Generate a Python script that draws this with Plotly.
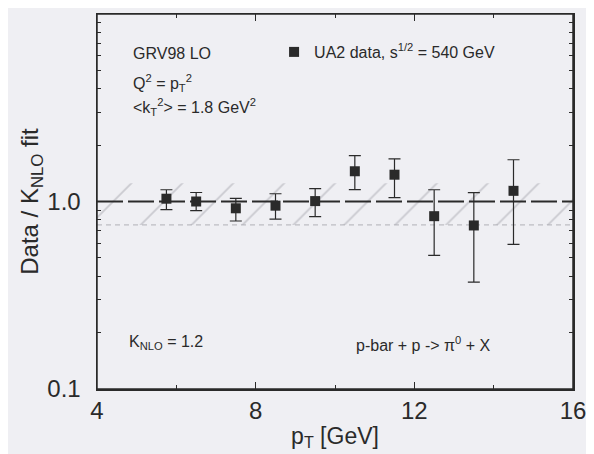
import plotly.graph_objects as go

pt = [5.75, 6.5, 7.5, 8.5, 9.5, 10.5, 11.5, 12.5, 13.5, 14.5]
ratio = [1.035, 1.00, 0.92, 0.95, 1.005, 1.45, 1.39, 0.835, 0.745, 1.14]
err_hi = [1.155, 1.117, 1.04, 1.10, 1.172, 1.755, 1.69, 1.155, 1.115, 1.67]
err_lo = [0.905, 0.894, 0.787, 0.806, 0.83, 1.158, 1.049, 0.516, 0.371, 0.59]
band_x = [4, 16]
band_hi = [1.25, 1.25]
band_lo = [0.75, 0.75]
fit_y = [1.0, 1.0]

plus = [h - r for h, r in zip(err_hi, ratio)]
minus = [r - l for r, l in zip(ratio, err_lo)]

bg = "#efeff3"
ink = "#2a2a2a"
font = "Liberation Sans, Arial, sans-serif"

fig = go.Figure()
fig.add_trace(go.Scatter(x=band_x, y=band_lo, mode="lines",
                         line=dict(color="#b0b0b6", width=1, dash="5px,4px"),
                         showlegend=False, hoverinfo="skip"))
fig.add_trace(go.Scatter(x=band_x, y=band_hi, mode="lines", fill="tonexty",
                         fillcolor="rgba(0,0,0,0)",
                         fillpattern=dict(shape="/", fgcolor="#a4a4ac", bgcolor="rgba(0,0,0,0)",
                                          size=36, solidity=0.05),
                         line=dict(color="rgba(0,0,0,0)", width=0),
                         showlegend=False, hoverinfo="skip"))
fig.add_trace(go.Scatter(x=band_x, y=fit_y, mode="lines",
                         line=dict(color=ink, width=1.8, dash="26px,5px"),
                         showlegend=False, hoverinfo="skip"))
fig.add_trace(go.Scatter(x=pt, y=ratio, mode="markers", name="UA2 data, s<sup>1/2</sup> = 540 GeV",
                         marker=dict(symbol="square", size=10, color=ink),
                         error_y=dict(type="data", symmetric=False, array=plus, arrayminus=minus,
                                      color=ink, thickness=1.2, width=6)))

fig.update_layout(
    width=586, height=446,
    paper_bgcolor=bg, plot_bgcolor=bg,
    margin=dict(l=89, r=21, t=4, b=65),
    font=dict(family=font, color=ink),
    legend=dict(x=0.372, y=0.944, xanchor="left", yanchor="top", bgcolor="rgba(0,0,0,0)",
                font=dict(size=16, family=font, color=ink)),
    xaxis=dict(range=[4, 16], tickvals=[4, 8, 12, 16], ticks="inside", ticklen=7,
               showline=True, linecolor=ink, linewidth=1.5, mirror="allticks", showgrid=False,
               zeroline=False, tickfont=dict(size=24), tickcolor=ink,
               minor=dict(tickvals=[6, 10, 14], ticks="inside", ticklen=4, tickcolor=ink),
               title=dict(text="p<sub>T</sub> [GeV]", font=dict(size=23), standoff=4)),
    yaxis=dict(type="log", range=[-1.0005, 1.0005], tickvals=[0.1, 1, 10], ticktext=["0.1", "1.0", "10.0"],
               ticks="inside", ticklen=7, showline=True, linecolor=ink, linewidth=1.5,
               mirror="allticks", showgrid=False, zeroline=False, tickfont=dict(size=24), tickcolor=ink,
               ticklabelstandoff=10,
               minor=dict(tickvals=[0.2, 0.3, 0.4, 0.5, 0.6, 0.7, 0.8, 0.9, 2, 3, 4, 5, 6, 7, 8, 9],
                          ticks="inside", ticklen=4, tickcolor=ink),
               title=dict(text="Data / K<sub>NLO</sub> fit", font=dict(size=24), standoff=2)),
)
fig.add_shape(type="rect", xref="paper", yref="paper", x0=0, x1=1, y0=0, y1=1,
              line=dict(color=ink, width=1.5), layer="above")

ann = [
    ("GRV98 LO", 0.072, 0.894),
    ("Q<sup>2</sup> = p<sub>T</sub><sup>2</sup>", 0.072, 0.817),
    ("<k<sub>T</sub><sup>2</sup>> = 1.8 GeV<sup>2</sup>", 0.072, 0.751),
    ("K<sub>NLO</sub> = 1.2", 0.063, 0.125),
    ("p-bar + p -> π<sup>0</sup> + X", 0.54, 0.119),
]
for text, x, y in ann:
    fig.add_annotation(text=text, x=x, y=y, xref="paper", yref="paper", xanchor="left",
                       yanchor="middle", showarrow=False, font=dict(size=16, family=font, color=ink))

fig.write_html("out.html", config={"staticPlot": True})
